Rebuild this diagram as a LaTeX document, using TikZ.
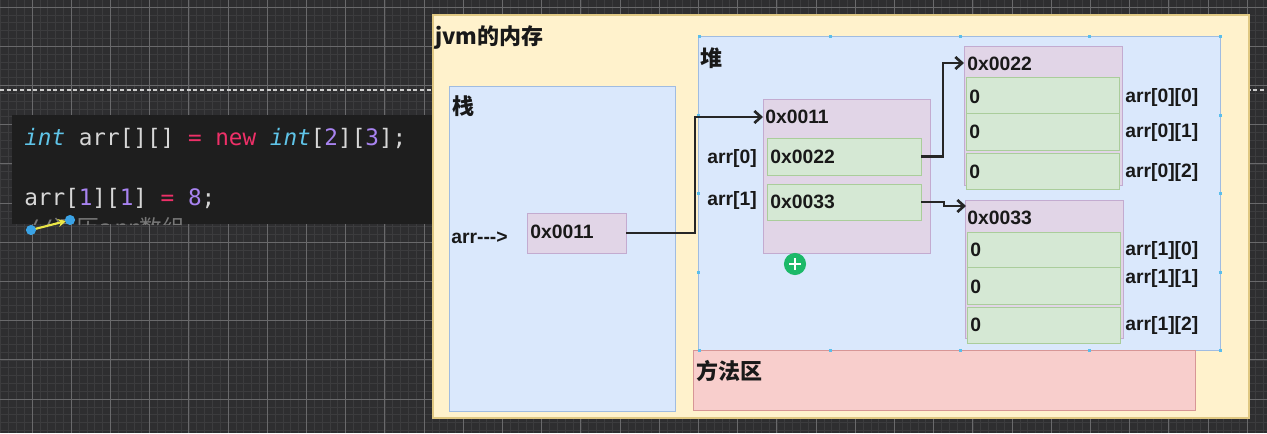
\documentclass[tikz,border=0pt]{standalone}
\usepackage{fontspec}
\setmainfont{Liberation Sans}
\newfontfamily\cjk{Noto Sans CJK SC}
\newfontfamily\codefont{DejaVu Sans Mono}
\usetikzlibrary{arrows.meta,calc}
\definecolor{bgc}{RGB}{46,46,48}
\definecolor{minorc}{RGB}{60,60,62}
\definecolor{majorc}{RGB}{105,105,107}
\definecolor{editorc}{RGB}{30,30,30}
\definecolor{ckw}{RGB}{95,196,232}
\definecolor{ctx}{RGB}{215,215,215}
\definecolor{cred}{RGB}{238,48,104}
\definecolor{cnum}{RGB}{168,131,240}
\definecolor{ccom}{RGB}{120,120,120}
\definecolor{yfill}{RGB}{255,242,204}
\definecolor{ydraw}{RGB}{224,200,130}
\definecolor{bfill}{RGB}{218,232,252}
\definecolor{bdraw}{RGB}{160,188,225}
\definecolor{pfill}{RGB}{225,213,231}
\definecolor{pdraw}{RGB}{195,171,208}
\definecolor{gfill}{RGB}{213,232,212}
\definecolor{gdraw}{RGB}{170,205,155}
\definecolor{rfill}{RGB}{248,206,204}
\definecolor{rdraw}{RGB}{215,150,150}
\definecolor{handlec}{RGB}{90,190,235}
\definecolor{icongreen}{RGB}{28,185,105}
\definecolor{dotblue}{RGB}{58,163,230}
\definecolor{arrowyellow}{RGB}{235,230,70}
\newcommand\mybox[6]{%
  \pgfmathsetmacro\mbw{(#5-#3)*0.75}%
  \pgfmathsetmacro\mbh{(#6-#4)*0.75}%
  \node[#1, minimum width=\mbw pt, minimum height=\mbh pt, inner sep=0pt, outer sep=0pt] (#2) at ({(#3+#5)/2},{(#4+#6)/2}) {};%
}
\tikzset{
  outerbox/.style={rectangle, fill=yfill, draw=ydraw, line width=0.8pt},
  areabox/.style={rectangle, fill=bfill, draw=bdraw, line width=0.7pt},
  arrbox/.style={rectangle, fill=pfill, draw=pdraw, line width=0.7pt},
  cellbox/.style={rectangle, fill=gfill, draw=gdraw, line width=0.7pt},
  methbox/.style={rectangle, fill=rfill, draw=rdraw, line width=0.7pt},
  lbl/.style={inner sep=0pt, font=\bfseries\fontsize{14.5}{16}\selectfont, text=black!90},
  ttl/.style={inner sep=0pt, font=\cjk\bfseries\fontsize{16.5}{18}\selectfont, text=black!90},
  codetext/.style={inner sep=0pt, anchor=base west, font=\codefont\fontsize{17}{20}\selectfont, text=ctx},
  conn/.style={draw=black!85, line width=2pt, -{Straight Barb[length=5pt,width=9pt]}},
  minorl/.style={draw=minorc, line width=0.45pt},
  majorl/.style={draw=majorc, line width=0.55pt},
  handle/.style={fill=handlec}
}
\begin{document}
\begin{tikzpicture}[x=0.75pt,y=-0.75pt]
\useasboundingbox (0,0) rectangle (1267,433);
\fill[bgc] (0,0) rectangle (1267,433);
% grid
\foreach \i in {0,...,163} { \draw[minorl] ({-7.2+\i*7.84},0) -- ({-7.2+\i*7.84},433); }
\foreach \j in {0,...,56} { \draw[minorl] (0,{-0.84+\j*7.84}) -- (1267,{-0.84+\j*7.84}); }
\foreach \i in {0,...,33} { \draw[majorl] ({-7.2+\i*39.2},0) -- ({-7.2+\i*39.2},433); }
\foreach \j in {0,...,11} { \draw[majorl] (0,{7+\j*39.2}) -- (1267,{7+\j*39.2}); }
\draw[draw=white!80!black, line width=0.8pt, dash pattern=on 3pt off 2pt] (0,90) -- (1267,90);
% editor panel
\fill[editorc] (12,115) rectangle (440,224);
\node[codetext] (code1) at (24,145) {{\color{ckw}\itshape int} arr[][] {\color{cred}=} {\color{cred}new} {\color{ckw}\itshape int}[{\color{cnum}2}][{\color{cnum}3}];};
\node[codetext] (code2) at (24,205) {arr[{\color{cnum}1}][{\color{cnum}1}] {\color{cred}=} {\color{cnum}8};};
\begin{scope}
\clip (12,115) rectangle (440,224);
\node[codetext, text=ccom] (code3) at (26,236) {//{\cjk 遍历}arr{\cjk 数组}};
\end{scope}
\coordinate (bd1) at (31,230);
\coordinate (bd2) at (70,220);
\draw[arrowyellow, line width=1.6pt, -{Stealth[length=6pt,width=6pt]}, shorten >=3pt] (bd1) -- (bd2);
\fill[dotblue] (bd1) circle[radius=3.8pt];
\fill[dotblue] (bd2) circle[radius=3.8pt];
% jvm memory
\mybox{outerbox}{jvm}{433}{15}{1249}{418}
\node[ttl, anchor=west] (jvmt) at (435,38) {jvm的内存};
% stack
\mybox{areabox}{stack}{449}{86}{675}{411}
\node[ttl, anchor=west] (stackt) at (452,106) {栈};
\node[lbl, anchor=west] (arrp) at (451,238) {arr{-}{-}{-}>};
\mybox{arrbox}{s11}{527}{213}{626}{253}
\node[lbl, anchor=west] (s11t) at (530,232) {0x0011};
% heap
\mybox{areabox}{heap}{698}{36}{1220}{350}
\node[ttl, anchor=west] (heapt) at (700,58) {堆};
% method area
\mybox{methbox}{meth}{693}{350}{1195}{410}
\node[ttl, anchor=west] (metht) at (696,371) {方法区};
% heap handles
\foreach \hx in {699,830,960,1089,1220} {
  \fill[handle] ({\hx-1.5},34.5) rectangle ++(3,3);
  \fill[handle] ({\hx-1.5},348.5) rectangle ++(3,3);
}
\foreach \hy in {115,193,272} {
  \fill[handle] (696.5,{\hy-1.5}) rectangle ++(3,3);
  \fill[handle] (1218.5,{\hy-1.5}) rectangle ++(3,3);
}
% array 0x0011
\mybox{arrbox}{h11}{763}{99}{930}{253}
\node[lbl, anchor=west] (h11t) at (765,117) {0x0011};
\mybox{cellbox}{c22}{767}{138}{921}{175}
\node[lbl, anchor=west] (c22t) at (770,157) {0x0022};
\mybox{cellbox}{c33}{767}{184}{921}{220}
\node[lbl, anchor=west] (c33t) at (770,202) {0x0033};
\node[lbl, anchor=east] (a0) at (757,158) {arr[0]};
\node[lbl, anchor=east] (a1l) at (757,200) {arr[1]};
% array 0x0022
\mybox{arrbox}{h22}{964}{46}{1122}{185}
\node[lbl, anchor=west] (h22t) at (967,64) {0x0022};
\mybox{cellbox}{e00}{966}{77}{1119}{113}
\mybox{cellbox}{e01}{966}{113}{1119}{150}
\mybox{cellbox}{e02}{966}{153}{1119}{189}
\node[lbl, anchor=west] (e00t) at (969,97) {0};
\node[lbl, anchor=west] (e01t) at (969,132) {0};
\node[lbl, anchor=west] (e02t) at (969,172) {0};
\node[lbl, anchor=west] (l00) at (1125,97) {arr[0][0]};
\node[lbl, anchor=west] (l01) at (1125,132) {arr[0][1]};
\node[lbl, anchor=west] (l02) at (1125,172) {arr[0][2]};
% array 0x0033
\mybox{arrbox}{h33}{965}{200}{1123}{338}
\node[lbl, anchor=west] (h33t) at (967,218) {0x0033};
\mybox{cellbox}{e10}{967}{232}{1120}{267}
\mybox{cellbox}{e11}{967}{267}{1120}{304}
\mybox{cellbox}{e12}{967}{307}{1120}{343}
\node[lbl, anchor=west] (e10t) at (970,250) {0};
\node[lbl, anchor=west] (e11t) at (970,287) {0};
\node[lbl, anchor=west] (e12t) at (970,325) {0};
\node[lbl, anchor=west] (l10) at (1125,250) {arr[1][0]};
\node[lbl, anchor=west] (l11) at (1125,278) {arr[1][1]};
\node[lbl, anchor=west] (l12) at (1125,325) {arr[1][2]};
% connectors
\coordinate (k1) at (695,117);
\coordinate (t1) at (763,117);
\draw[conn] (s11.east) -| (k1) -- (t1);
\coordinate (k2) at (943,63);
\coordinate (t2) at (964,63);
\draw[conn] (c22.east) -| (k2) -- (t2);
\coordinate (k3) at (944,206);
\coordinate (t3) at (966,206);
\draw[conn] (c33.east) -| (k3) -- (t3);
% move icon
\coordinate (mv) at (795,264);
\fill[icongreen] (mv) circle[radius=8.3pt];
\draw[white, line width=0.8pt] ($(mv)+(-6,0)$) -- ($(mv)+(6,0)$);
\draw[white, line width=0.8pt] ($(mv)+(0,-6)$) -- ($(mv)+(0,6)$);
\end{tikzpicture}
\end{document}
